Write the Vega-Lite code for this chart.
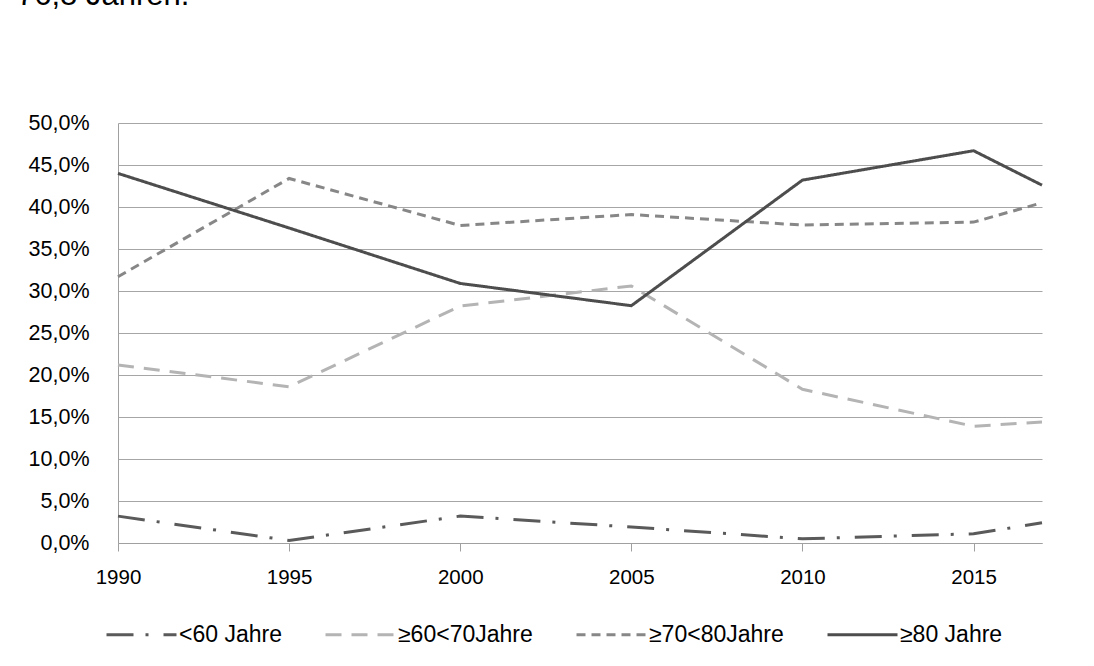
{
  "$schema": "https://vega.github.io/schema/vega-lite/v6.json",
  "width": 924,
  "height": 420,
  "autosize": {"type": "none"},
  "padding": {"left": 118, "top": 123, "right": 52, "bottom": 123},
  "background": "white",
  "title": {
    "text": "76,8 Jahren.",
    "anchor": "start",
    "frame": "group",
    "orient": "top",
    "offset": 76,
    "dx": -101,
    "baseline": "alphabetic",
    "font": "Liberation Sans",
    "fontSize": 31,
    "fontWeight": "normal",
    "color": "#000000"
  },
  "data": {
    "values": [
      {"jahr": 1990, "gruppe": "<60 Jahre", "anteil": 3.2},
      {"jahr": 1995, "gruppe": "<60 Jahre", "anteil": 0.3},
      {"jahr": 2000, "gruppe": "<60 Jahre", "anteil": 3.2},
      {"jahr": 2005, "gruppe": "<60 Jahre", "anteil": 1.9},
      {"jahr": 2010, "gruppe": "<60 Jahre", "anteil": 0.5},
      {"jahr": 2015, "gruppe": "<60 Jahre", "anteil": 1.1},
      {"jahr": 2017, "gruppe": "<60 Jahre", "anteil": 2.4},
      {"jahr": 1990, "gruppe": "≥60<70Jahre", "anteil": 21.2},
      {"jahr": 1995, "gruppe": "≥60<70Jahre", "anteil": 18.6},
      {"jahr": 2000, "gruppe": "≥60<70Jahre", "anteil": 28.2},
      {"jahr": 2005, "gruppe": "≥60<70Jahre", "anteil": 30.6},
      {"jahr": 2010, "gruppe": "≥60<70Jahre", "anteil": 18.3},
      {"jahr": 2015, "gruppe": "≥60<70Jahre", "anteil": 13.9},
      {"jahr": 2017, "gruppe": "≥60<70Jahre", "anteil": 14.4},
      {"jahr": 1990, "gruppe": "≥70<80Jahre", "anteil": 31.7},
      {"jahr": 1995, "gruppe": "≥70<80Jahre", "anteil": 43.4},
      {"jahr": 2000, "gruppe": "≥70<80Jahre", "anteil": 37.8},
      {"jahr": 2005, "gruppe": "≥70<80Jahre", "anteil": 39.1},
      {"jahr": 2010, "gruppe": "≥70<80Jahre", "anteil": 37.85},
      {"jahr": 2015, "gruppe": "≥70<80Jahre", "anteil": 38.2},
      {"jahr": 2017, "gruppe": "≥70<80Jahre", "anteil": 40.5},
      {"jahr": 1990, "gruppe": "≥80 Jahre", "anteil": 44.0},
      {"jahr": 1995, "gruppe": "≥80 Jahre", "anteil": 37.5},
      {"jahr": 2000, "gruppe": "≥80 Jahre", "anteil": 30.9},
      {"jahr": 2005, "gruppe": "≥80 Jahre", "anteil": 28.25},
      {"jahr": 2010, "gruppe": "≥80 Jahre", "anteil": 43.2},
      {"jahr": 2015, "gruppe": "≥80 Jahre", "anteil": 46.7},
      {"jahr": 2017, "gruppe": "≥80 Jahre", "anteil": 42.6}
    ]
  },
  "mark": {"type": "line", "strokeWidth": 3, "strokeCap": "butt", "strokeJoin": "miter"},
  "encoding": {
    "x": {
      "field": "jahr",
      "type": "quantitative",
      "scale": {"domain": [1990, 2017], "nice": false, "zero": false},
      "axis": {
        "title": null,
        "values": [1990, 1995, 2000, 2005, 2010, 2015],
        "format": "d",
        "grid": false,
        "tickSize": 8,
        "tickColor": "#a0a0a0",
        "domainColor": "#a0a0a0",
        "labelPadding": 16,
        "labelFontSize": 20.5,
        "labelFlush": false
      }
    },
    "y": {
      "field": "anteil",
      "type": "quantitative",
      "scale": {"domain": [0, 50], "nice": false},
      "axis": {
        "title": null,
        "values": [0, 5, 10, 15, 20, 25, 30, 35, 40, 45, 50],
        "labelExpr": "replace(format(datum.value, '.1f'), '.', ',') + '%'",
        "grid": true,
        "gridColor": "#a6a6a6",
        "gridWidth": 1,
        "ticks": false,
        "domainColor": "#a0a0a0",
        "labelFontSize": 21.5,
        "labelPadding": 29
      }
    },
    "color": {
      "field": "gruppe",
      "type": "nominal",
      "scale": {
        "domain": ["<60 Jahre", "≥60<70Jahre", "≥70<80Jahre", "≥80 Jahre"],
        "range": ["#5a5a5a", "#b4b4b4", "#878787", "#4d4d4d"]
      },
      "legend": {
        "title": null,
        "orient": "none",
        "legendX": -13,
        "legendY": 475,
        "direction": "horizontal",
        "columns": 4,
        "columnPadding": 37,
        "symbolType": "stroke",
        "symbolSize": 4900,
        "symbolStrokeWidth": 3,
        "labelOffset": 1,
        "labelLimit": 300
      }
    },
    "strokeDash": {
      "field": "gruppe",
      "type": "nominal",
      "scale": {
        "domain": ["<60 Jahre", "≥60<70Jahre", "≥70<80Jahre", "≥80 Jahre"],
        "range": [[27, 12, 3, 15], [16, 10], [9, 6], [1, 0]]
      },
      "legend": {
        "title": null,
        "orient": "none",
        "legendX": -13,
        "legendY": 475,
        "direction": "horizontal",
        "columns": 4,
        "columnPadding": 37,
        "symbolType": "stroke",
        "symbolSize": 4900,
        "symbolStrokeWidth": 3,
        "labelOffset": 1,
        "labelLimit": 300
      }
    }
  },
  "config": {
    "view": {"stroke": null},
    "font": "Liberation Sans",
    "axis": {"labelFont": "Liberation Sans", "labelFontSize": 20, "labelColor": "#000000"},
    "legend": {"labelFont": "Liberation Sans", "labelFontSize": 23, "labelColor": "#000000"}
  }
}
